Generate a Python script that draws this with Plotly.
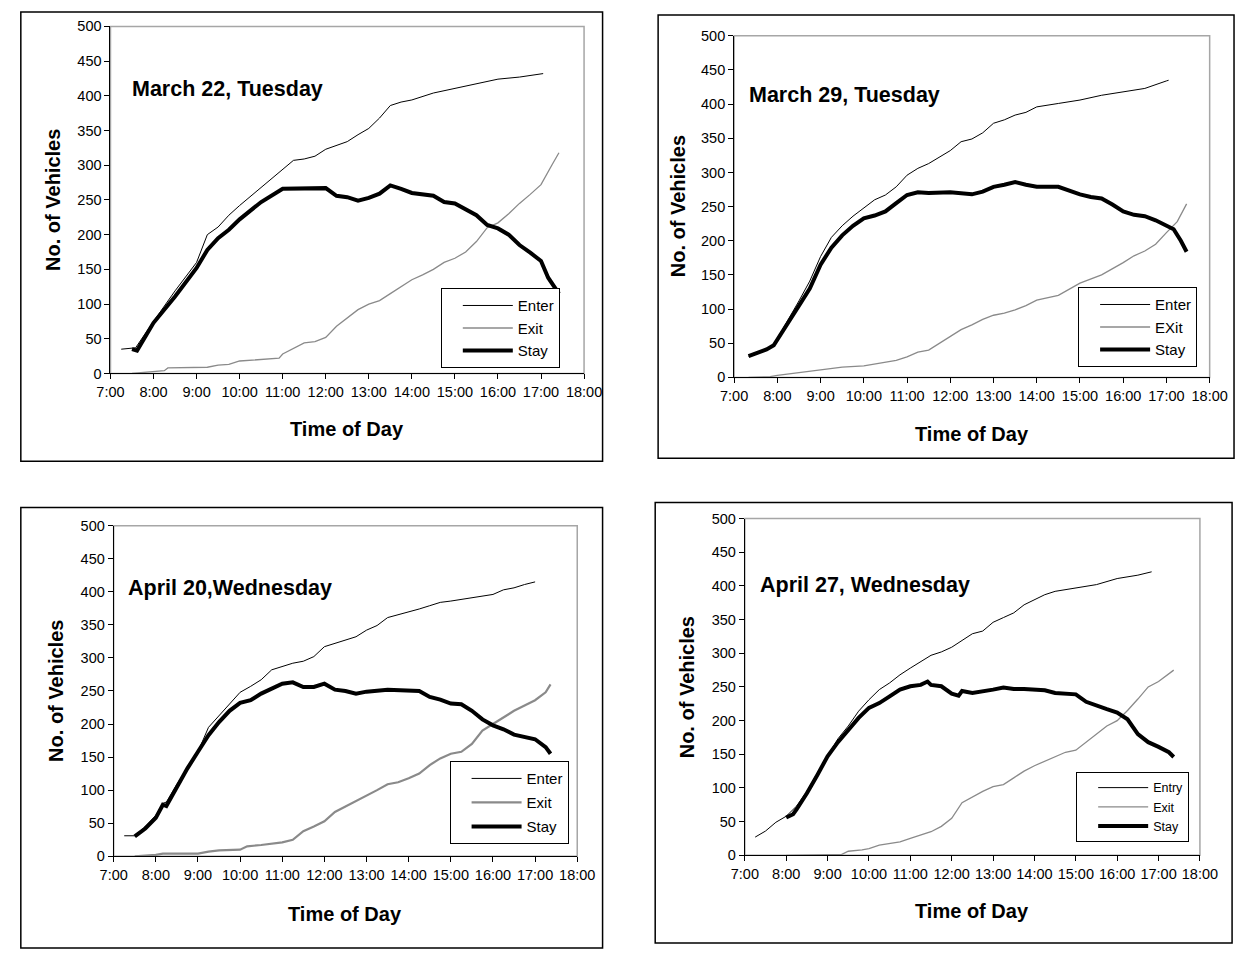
import plotly.graph_objects as go

W, H = 1253, 956
FONT = "Liberation Sans, Arial, sans-serif"

# ---- March 22, Tuesday ----
mar22_enter_t = ["7:15", "7:35", "8:00", "8:30", "9:00", "9:10", "9:15", "9:30", "9:45", "10:00",
                 "10:30", "11:00", "11:15", "11:30", "11:45", "12:00", "12:30", "12:45", "13:00",
                 "13:15", "13:30", "13:45", "14:00", "14:30", "15:00", "15:30", "16:00", "16:30",
                 "17:00", "17:03"]
mar22_enter_v = [35, 37, 75, 119, 160, 185, 200, 211, 228, 242, 268, 294, 307, 309, 313, 323, 334,
                 344, 353, 368, 386, 391, 394, 404, 411, 417, 424, 427, 431, 432]
mar22_exit_t = ["7:30", "7:45", "8:00", "8:15", "8:20", "8:30", "9:00", "9:15", "9:30", "9:45",
                "10:00", "10:30", "10:55", "11:00", "11:15", "11:30", "11:45", "12:00", "12:15",
                "12:30", "12:45", "13:00", "13:15", "13:30", "13:45", "14:00", "14:15", "14:30",
                "14:45", "15:00", "15:15", "15:30", "15:45", "16:00", "16:15", "16:30", "16:45",
                "17:00", "17:15", "17:25"]
mar22_exit_v = [0, 1, 3, 4, 8, 8, 9, 9, 12, 13, 18, 20, 22, 28, 36, 44, 46, 52, 68, 80, 92, 100,
                105, 115, 125, 135, 142, 150, 160, 166, 175, 190, 210, 217, 230, 245, 258, 272,
                300, 318]
mar22_stay_t = ["7:30", "7:37", "8:00", "8:30", "9:00", "9:15", "9:30", "9:45", "10:00", "10:30",
                "11:00", "11:30", "12:00", "12:15", "12:30", "12:45", "13:00", "13:15", "13:30",
                "13:45", "14:00", "14:30", "14:45", "15:00", "15:15", "15:30", "15:45", "16:00",
                "16:15", "16:30", "16:45", "17:00", "17:10", "17:20", "17:25"]
mar22_stay_v = [35, 33, 73, 111, 152, 178, 195, 207, 222, 247, 266, 267, 267, 256, 254, 249, 253,
                259, 271, 266, 260, 256, 247, 245, 237, 228, 214, 209, 200, 185, 174, 162, 138,
                124, 115]

# ---- March 29, Tuesday ----
mar29_enter_t = ["7:20", "7:45", "7:55", "8:00", "8:15", "8:30", "8:45", "9:00", "9:15", "9:30",
                 "9:45", "10:00", "10:15", "10:30", "10:45", "11:00", "11:15", "11:30", "11:45",
                 "12:00", "12:15", "12:30", "12:45", "13:00", "13:15", "13:30", "13:45", "14:00",
                 "14:30", "15:00", "15:30", "16:00", "16:30", "17:00", "17:03"]
mar29_enter_v = [31, 41, 48, 57, 86, 112, 141, 177, 205, 222, 236, 248, 260, 267, 279, 296, 306,
                 313, 322, 332, 345, 349, 358, 372, 377, 384, 388, 396, 401, 406, 413, 418, 423,
                 434, 435]
mar29_exit_t = ["7:20", "7:50", "8:00", "8:30", "9:00", "9:30", "10:00", "10:30", "10:45", "11:00",
                "11:15", "11:30", "11:45", "12:00", "12:15", "12:30", "12:45", "13:00", "13:15",
                "13:30", "13:45", "14:00", "14:30", "15:00", "15:30", "16:00", "16:15", "16:30",
                "16:45", "17:00", "17:15", "17:28"]
mar29_exit_v = [0, 1, 3, 7, 11, 15, 17, 22, 25, 30, 37, 40, 50, 60, 70, 77, 85, 91, 94, 99, 105,
                113, 120, 138, 150, 168, 178, 185, 195, 212, 228, 254]
mar29_stay_t = ["7:20", "7:45", "7:55", "8:00", "8:15", "8:30", "8:45", "9:00", "9:15", "9:30",
                "9:45", "10:00", "10:15", "10:30", "10:45", "11:00", "11:15", "11:30", "12:00",
                "12:30", "12:45", "13:00", "13:15", "13:30", "13:45", "14:00", "14:30", "14:45",
                "15:00", "15:15", "15:30", "15:45", "16:00", "16:15", "16:30", "16:45", "17:00",
                "17:10", "17:20", "17:28"]
mar29_stay_v = [31, 41, 47, 55, 80, 105, 130, 165, 190, 208, 222, 233, 237, 243, 255, 267, 271,
                270, 271, 268, 272, 279, 282, 286, 282, 279, 279, 273, 268, 264, 262, 253, 243,
                238, 236, 230, 222, 217, 200, 184]

# ---- April 20, Wednesday ----
apr20_enter_t = ["7:15", "7:30", "7:45", "8:00", "8:10", "8:15", "8:30", "8:45", "9:00", "9:15",
                 "9:30", "9:45", "10:00", "10:15", "10:30", "10:45", "11:00", "11:15", "11:30",
                 "11:45", "12:00", "12:15", "12:30", "12:45", "13:00", "13:15", "13:30", "13:45",
                 "14:00", "14:15", "14:30", "14:45", "15:00", "15:30", "16:00", "16:15", "16:30",
                 "16:45", "17:00"]
apr20_enter_v = [31, 31, 45, 62, 80, 82, 109, 134, 158, 195, 213, 230, 248, 257, 267, 282, 287,
                 292, 295, 302, 317, 322, 327, 332, 342, 349, 361, 365, 369, 374, 379, 384, 386,
                 391, 396, 403, 406, 411, 415]
apr20_exit_t = ["7:30", "8:00", "8:10", "9:00", "9:15", "9:30", "10:00", "10:10", "10:30", "11:00",
                "11:15", "11:30", "11:45", "12:00", "12:15", "12:30", "12:45", "13:00", "13:15",
                "13:30", "13:45", "14:00", "14:15", "14:30", "14:45", "15:00", "15:15", "15:30",
                "15:45", "16:00", "16:15", "16:30", "16:45", "17:00", "17:15", "17:22"]
apr20_exit_v = [0, 2, 4, 4, 7, 9, 10, 15, 17, 21, 25, 38, 45, 53, 67, 75, 83, 92, 100, 109, 112,
                118, 125, 138, 148, 155, 158, 170, 190, 200, 210, 220, 228, 236, 248, 260]
apr20_stay_t = ["7:30", "7:45", "8:00", "8:10", "8:15", "8:30", "8:45", "9:00", "9:15", "9:30",
                "9:45", "10:00", "10:15", "10:30", "10:45", "11:00", "11:15", "11:30", "11:45",
                "12:00", "12:15", "12:30", "12:45", "13:00", "13:30", "14:00", "14:15", "14:30",
                "14:45", "15:00", "15:15", "15:30", "15:45", "16:00", "16:15", "16:30", "16:45",
                "17:00", "17:15", "17:22"]
apr20_stay_v = [30, 42, 58, 78, 76, 105, 133, 158, 183, 203, 220, 232, 236, 246, 254, 261, 263,
                256, 256, 261, 252, 250, 246, 249, 252, 251, 250, 241, 237, 231, 230, 220, 207,
                198, 192, 184, 181, 177, 165, 155]

# ---- April 27, Wednesday ----
apr27_enter_t = ["7:15", "7:30", "7:45", "8:00", "8:15", "8:30", "8:45", "9:00", "9:15", "9:30",
                 "9:45", "10:00", "10:15", "10:30", "10:45", "11:00", "11:15", "11:30", "11:45",
                 "12:00", "12:15", "12:30", "12:45", "13:00", "13:15", "13:30", "13:45", "14:00",
                 "14:15", "14:30", "15:00", "15:30", "16:00", "16:30", "16:50"]
apr27_enter_v = [27, 36, 49, 58, 73, 95, 122, 148, 173, 192, 214, 231, 246, 256, 268, 278, 287,
                 297, 302, 309, 319, 329, 333, 346, 353, 360, 372, 380, 387, 392, 397, 402, 411,
                 416, 421]
apr27_exit_t = ["8:00", "8:30", "9:00", "9:20", "9:30", "9:50", "10:00", "10:15", "10:30", "10:45",
                "11:00", "11:15", "11:30", "11:45", "12:00", "12:15", "12:30", "12:45", "13:00",
                "13:15", "13:30", "13:45", "14:00", "14:15", "14:30", "14:45", "15:00", "15:15",
                "15:30", "15:45", "16:00", "16:15", "16:30", "16:45", "17:00", "17:22"]
apr27_exit_v = [0, 1, 1, 1, 6, 8, 10, 15, 17, 20, 25, 30, 35, 43, 55, 78, 87, 95, 102, 105, 115,
                125, 133, 140, 147, 153, 156, 168, 180, 192, 200, 215, 232, 250, 258, 275]
apr27_stay_t = ["8:00", "8:10", "8:15", "8:30", "8:45", "9:00", "9:15", "9:30", "9:45", "10:00",
                "10:15", "10:30", "10:45", "11:00", "11:15", "11:25", "11:30", "11:45", "12:00",
                "12:10", "12:15", "12:30", "12:45", "13:00", "13:15", "13:30", "13:45", "14:00",
                "14:15", "14:30", "14:45", "15:00", "15:15", "15:30", "15:45", "16:00", "16:15",
                "16:30", "16:45", "17:00", "17:15", "17:22"]
apr27_stay_v = [56, 61, 68, 92, 119, 147, 168, 187, 204, 219, 226, 236, 246, 251, 253, 258, 253,
                251, 240, 237, 244, 241, 243, 246, 249, 247, 247, 246, 245, 241, 240, 239, 228,
                222, 217, 212, 202, 180, 168, 161, 153, 146]

hour_ticks = list(range(7, 19))
hour_labels = [f"{h}:00" for h in hour_ticks]
y_ticks = list(range(0, 501, 50))


def hours(stamps):
    out = []
    for s in stamps:
        h, m = s.split(":")
        out.append(int(h) + int(m) / 60.0)
    return out


def px(x):
    return x / W


def py(y):
    return 1 - y / H


# panel layout in page pixels: plot box (x0, x1, ytop, ybottom), outer frame,
# legend corner, title position, axis-title positions
panels = [
    dict(title="March 22, Tuesday", names=("Enter", "Exit", "Stay"),
         enter=(mar22_enter_t, mar22_enter_v), exit=(mar22_exit_t, mar22_exit_v),
         stay=(mar22_stay_t, mar22_stay_v), exit_w=1.3,
         plot=(99, 585, 18.7, 371.7), frame=(7, 604, 4, 461), legend=(438, 285),
         lfont=15, lgap=0, title_xy=(119, 82), ytitle_x=40, xtitle_y=428),
    dict(title="March 29, Tuesday", names=("Enter", "EXit", "Stay"),
         enter=(mar29_enter_t, mar29_enter_v), exit=(mar29_exit_t, mar29_exit_v),
         stay=(mar29_stay_t, mar29_stay_v), exit_w=1.3,
         plot=(739, 1227, 28.3, 375.7), frame=(661, 1252, 7, 458), legend=(1092, 284),
         lfont=15, lgap=0, title_xy=(752, 88), ytitle_x=681, xtitle_y=433),
    dict(title="April 20,Wednesday", names=("Enter", "Exit", "Stay"),
         enter=(apr20_enter_t, apr20_enter_v), exit=(apr20_exit_t, apr20_exit_v),
         stay=(apr20_stay_t, apr20_stay_v), exit_w=2.2,
         plot=(102.3, 578, 526.5, 862.7), frame=(7, 604, 508, 956), legend=(447, 766),
         lfont=15, lgap=1.5, title_xy=(115, 590), ytitle_x=43, xtitle_y=921),
    dict(title="April 27, Wednesday", names=("Entry", "Exit", "Stay"),
         enter=(apr27_enter_t, apr27_enter_v), exit=(apr27_exit_t, apr27_exit_v),
         stay=(apr27_stay_t, apr27_stay_v), exit_w=1.3,
         plot=(750, 1217, 519.3, 861.7), frame=(658, 1250, 503, 951), legend=(1090, 777),
         lfont=12.5, lgap=0, title_xy=(763, 587), ytitle_x=691, xtitle_y=918),
]

fig = go.Figure()
layout = dict(
    width=W, height=H, margin=dict(l=0, r=0, t=0, b=0),
    paper_bgcolor="white", plot_bgcolor="white",
    font=dict(family=FONT, color="black", size=14.5),
    shapes=[], annotations=[],
)

for i, p in enumerate(panels, start=1):
    sfx = "" if i == 1 else str(i)
    xa, ya = "x" + sfx, "y" + sfx
    lg = "legend" + sfx
    x0, x1, yt, yb = p["plot"]

    fig.add_trace(go.Scatter(x=hours(p["enter"][0]), y=p["enter"][1], name=p["names"][0],
                             mode="lines", line=dict(color="black", width=1),
                             legendgroup=f"enter{i}",
                             xaxis=xa, yaxis=ya, legend=lg))
    fig.add_trace(go.Scatter(x=hours(p["exit"][0]), y=p["exit"][1], name=p["names"][1],
                             mode="lines", line=dict(color="#8a8a8a", width=p["exit_w"]),
                             legendgroup=f"exit{i}",
                             xaxis=xa, yaxis=ya, legend=lg))
    fig.add_trace(go.Scatter(x=hours(p["stay"][0]), y=p["stay"][1], name=p["names"][2],
                             mode="lines", line=dict(color="black", width=4),
                             legendgroup=f"stay{i}",
                             xaxis=xa, yaxis=ya, legend=lg))

    layout["xaxis" + sfx] = dict(
        domain=[px(x0), px(x1)], anchor=ya, range=[7, 18],
        tickmode="array", tickvals=hour_ticks, ticktext=hour_labels,
        showgrid=False, zeroline=False, showline=True, linecolor="black", linewidth=1,
        ticks="outside", ticklen=5, tickcolor="black", tickfont=dict(size=14.5),
    )
    layout["yaxis" + sfx] = dict(
        domain=[py(yb), py(yt)], anchor=xa, range=[0, 500],
        tickmode="array", tickvals=y_ticks,
        showgrid=False, zeroline=False, showline=True, linecolor="black", linewidth=1,
        ticks="outside", ticklen=5, tickcolor="black", tickfont=dict(size=14.5),
    )
    lx, ly = p["legend"]
    layout[lg] = dict(
        x=px(lx), y=py(ly), xanchor="left", yanchor="top",
        bgcolor="white", bordercolor="black", borderwidth=1,
        font=dict(size=p["lfont"], family=FONT), itemwidth=50, indentation=16,
        tracegroupgap=p["lgap"], entrywidth=100, entrywidthmode="pixels",
    )

    # grey plot-area border
    layout["shapes"].append(dict(
        type="rect", xref=xa + " domain", yref=ya + " domain", x0=0, x1=1, y0=0, y1=1,
        line=dict(color="#a6a6a6", width=1.5), layer="below"))
    # outer chart frame
    fx0, fx1, fy0, fy1 = p["frame"]
    layout["shapes"].append(dict(
        type="rect", xref="paper", yref="paper", x0=px(fx0), x1=px(fx1), y0=py(fy1), y1=py(fy0),
        line=dict(color="black", width=1.5)))

    tx, ty = p["title_xy"]
    layout["annotations"].append(dict(
        text=p["title"], xref="paper", yref="paper", x=px(tx), y=py(ty),
        xanchor="left", yanchor="middle", showarrow=False,
        font=dict(size=21.5, family=FONT, color="black", weight="bold")))
    layout["annotations"].append(dict(
        text="No. of Vehicles", xref="paper", yref="paper", x=px(p["ytitle_x"]),
        y=py((yt + yb) / 2), xanchor="center", yanchor="middle", textangle=-90,
        showarrow=False, font=dict(size=20, family=FONT, color="black", weight="bold")))
    layout["annotations"].append(dict(
        text="Time of Day", xref="paper", yref="paper", x=px((x0 + x1) / 2),
        y=py(p["xtitle_y"]), xanchor="center", yanchor="middle",
        showarrow=False, font=dict(size=20, family=FONT, color="black", weight="bold")))

fig.update_layout(**layout)
# the page body keeps the browser's default 8px margin otherwise
fig.write_html("out.html", post_script="document.body.style.margin = '0';")
